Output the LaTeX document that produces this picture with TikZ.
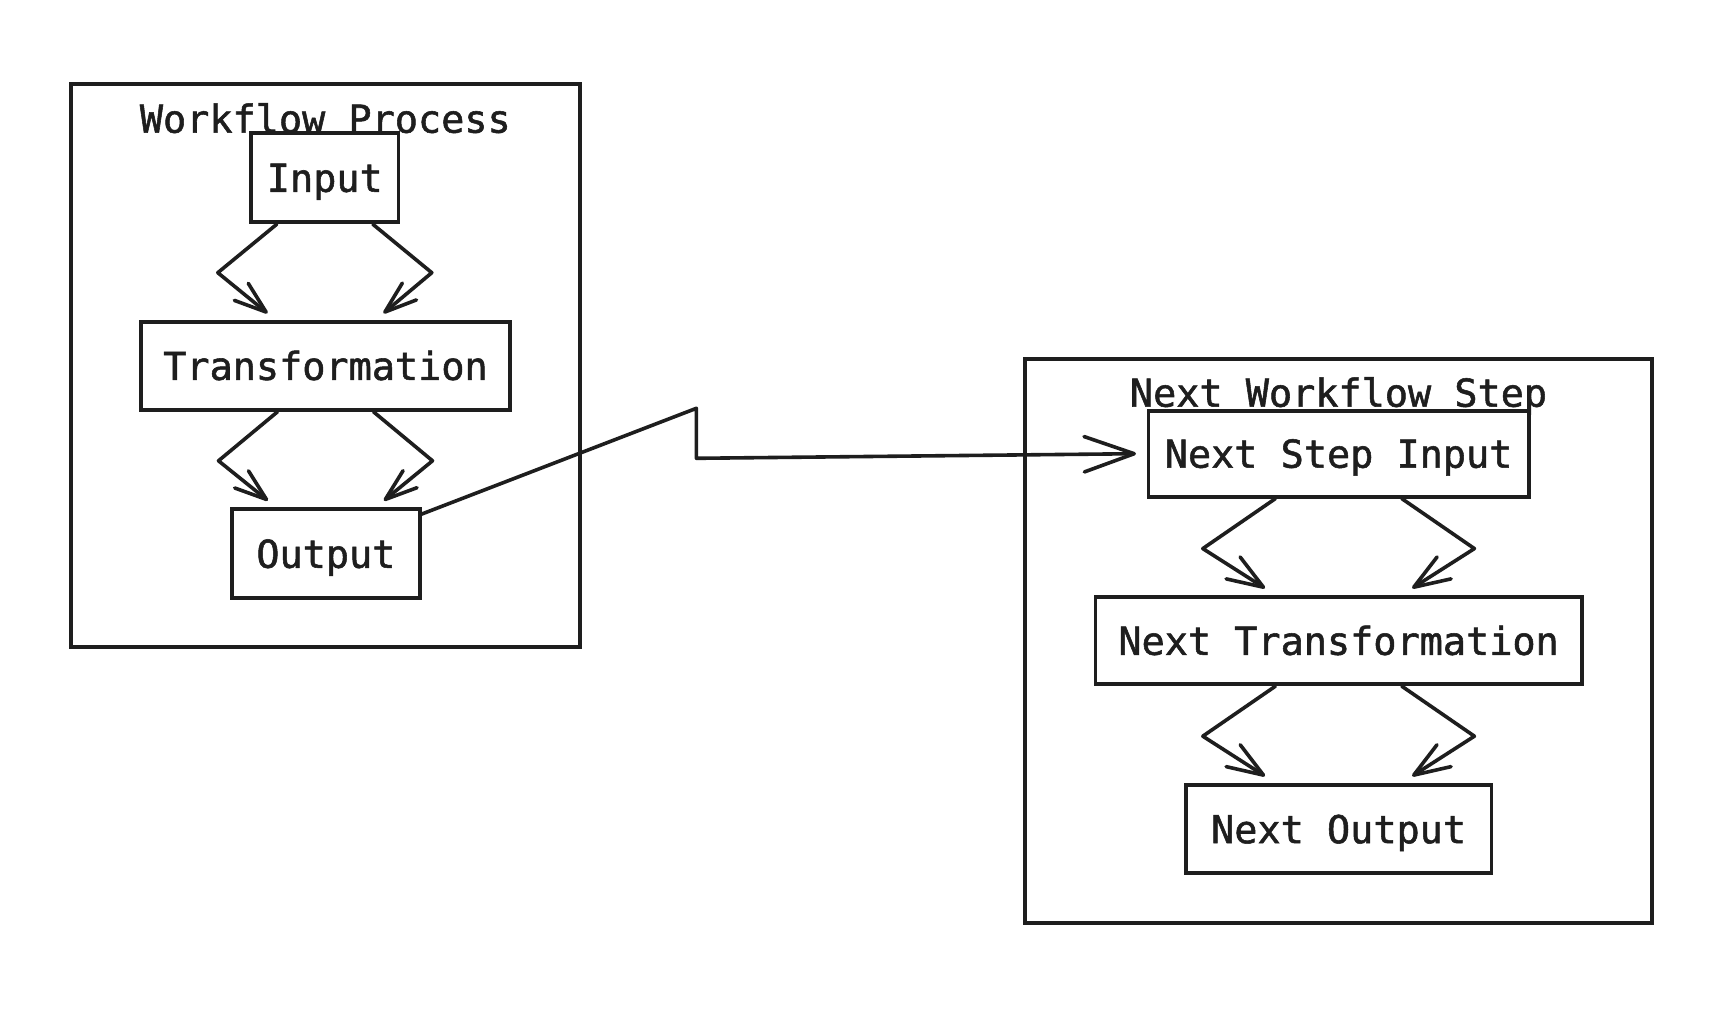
\documentclass[tikz,border=0pt]{standalone}
\usepackage{fontspec}
\setmainfont{DejaVu Sans Mono}[BoldFont={DejaVu Sans Mono},BoldFeatures={FakeBold=1.4}]
\usetikzlibrary{arrows.meta}
\definecolor{ink}{HTML}{1E1E1E}
\begin{document}
\begin{tikzpicture}[x=0.5pt,y=-0.5pt,
  every node/.style={font=\fontsize{19.25pt}{23pt}\selectfont\bfseries, text=ink},
  grp/.style={draw=ink, line width=1.9pt, inner sep=0pt},
  box/.style={draw=ink, line width=1.9pt, inner sep=0pt, minimum height=44pt, text height=14pt, text depth=0pt},
  ttl/.style={anchor=base, inner sep=0pt},
  flowa/.style={draw=ink, line width=1.8pt, line join=round, line cap=round, -{Straight Barb[length=16pt,width=11pt,line join=round,line cap=round]}},
  flowb/.style={draw=ink, line width=1.8pt, line join=round, line cap=round, -{Straight Barb[length=18pt,width=13pt,line join=round,line cap=round]}},
  link/.style={draw=ink, line width=1.8pt, line join=round, line cap=round, -{Straight Barb[length=25pt,width=17.7pt,line join=round,line cap=round]}}
]
\fill[white] (0,0) rectangle (1720,1032);
\path[use as bounding box] (0,0) rectangle (1720,1032);

% left group
\node[grp, minimum width=254.35pt, minimum height=281.35pt] (g1) at (325.3,365.3) {};
\node[ttl] (t1) at (325.3,132.7) {Workflow Process};
\node[box, minimum width=73.75pt, minimum height=44.5pt] (in) at (324.8,177.8) {Input};
\node[box, minimum width=184.5pt] (tr) at (325.5,365.9) {Transformation};
\node[box, minimum width=93.85pt, minimum height=44.5pt] (out) at (325.9,553.8) {Output};

% right group
\node[grp, minimum width=313.5pt, minimum height=282pt] (g2) at (1338.5,641.3) {};
\node[ttl] (t2) at (1338.5,406.7) {Next Workflow Step};
\node[box, minimum width=190.1pt, minimum height=43pt] (nin) at (1338.6,453.7) {Next Step Input};
\node[box, minimum width=243.15pt, minimum height=43.5pt] (ntr) at (1338.6,640.8) {Next Transformation};
\node[box, minimum width=152.8pt] (nout) at (1338.6,829.2) {Next Output};

% left flows
\draw[flowa] ([xshift=-24pt]in.south) -- ++(-59,48.5) -- ([xshift=-29pt,yshift=3.4pt]tr.north);
\draw[flowa] ([xshift=24pt]in.south) -- ++(59,48.5) -- ([xshift=29pt,yshift=3.4pt]tr.north);
\draw[flowa] ([xshift=-24pt]tr.south) -- ++(-59,49) -- ([xshift=-29pt,yshift=3.4pt]out.north);
\draw[flowa] ([xshift=24pt]tr.south) -- ++(59,49) -- ([xshift=29pt,yshift=3.4pt]out.north);

% right flows
\draw[flowb] ([xshift=-31.6pt]nin.south) -- ++(-72.6,50) -- ([xshift=-36.8pt,yshift=3.6pt]ntr.north);
\draw[flowb] ([xshift=31.6pt]nin.south) -- ++(72.6,50) -- ([xshift=36.8pt,yshift=3.6pt]ntr.north);
\draw[flowb] ([xshift=-31.6pt]ntr.south) -- ++(-72.6,50) -- ([xshift=-36.8pt,yshift=3.6pt]nout.north);
\draw[flowb] ([xshift=31.6pt]ntr.south) -- ++(72.6,50) -- ([xshift=36.8pt,yshift=3.6pt]nout.north);

% link between groups
\coordinate (k1) at (696.4,408.3);
\coordinate (k2) at (696.4,458.3);
\draw[link] ([yshift=-3.35pt]out.north east) -- (k1) -- (k2) -- ([xshift=-5.3pt]nin.west);
\end{tikzpicture}
\end{document}
